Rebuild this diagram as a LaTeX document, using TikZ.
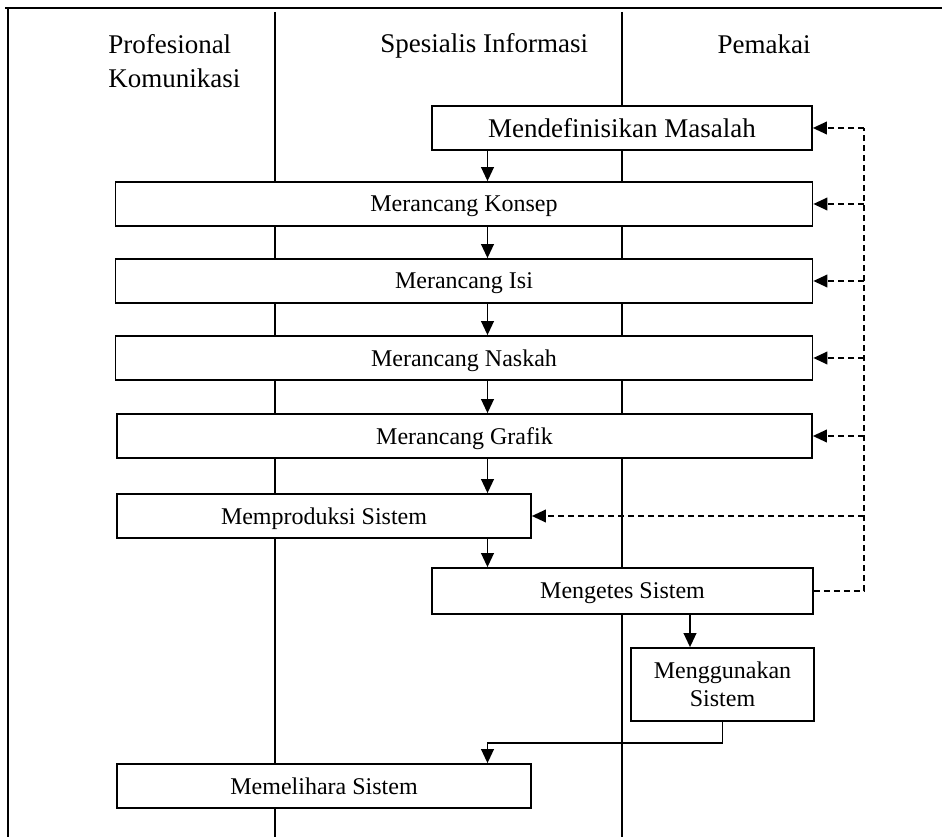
\documentclass[tikz,border=0pt]{standalone}
\usepackage{fontspec}
\setmainfont{Liberation Serif}
\usetikzlibrary{arrows.meta}
\begin{document}
\begin{tikzpicture}[x=0.75pt,y=-0.75pt,
  lane/.style={line width=1pt},
  frame/.style={line width=1.2pt},
  box/.style={draw, line width=1.3pt, fill=white, inner sep=0pt, align=center,
    text depth=0pt, font=\fontsize{18}{21}\selectfont},
  wh/.style 2 args={minimum width=#1*0.75pt, minimum height=#2*0.75pt},
  hdr/.style={inner sep=0pt, font=\fontsize{20.25}{25.5}\selectfont},
  flow/.style={line width=1.3pt, -{Triangle[length=10.5pt,width=9.5pt]}},
  fb/.style={line width=1.2pt, dash pattern=on 4.5pt off 3pt},
  fbarrow/.style={fb, -{Triangle[length=10.5pt,width=9.5pt]}}]
\useasboundingbox (0,0) rectangle (942,837);
\fill[white] (0,0) rectangle (942,837);
% frame and lanes
\draw[frame] (5,8) -- (942,8);
\draw[frame] (8,8) -- (8,837);
\draw[lane] (275,12) -- (275,837);
\draw[lane] (622,12) -- (622,837);
% headers
\node[hdr, anchor=north west, align=left] (hpk) at (108,34.5) {Profesional\\Komunikasi};
\node[hdr, anchor=base west] (hsi) at (380,53) {Spesialis Informasi};
\node[hdr, anchor=base] (hpm) at (764,54) {Pemakai};
% boxes
\node[box, wh={380}{44}] (b1) at (622,128) {\fontsize{20.25}{24}\selectfont Mendefinisikan Masalah};
\node[box, wh={697}{44}] (b2) at (464,204) {Merancang Konsep};
\node[box, wh={697}{44}] (b3) at (464,281) {Merancang Isi};
\node[box, wh={697}{44}] (b4) at (464,358) {Merancang Naskah};
\node[box, wh={695}{44}] (b5) at (464.5,436) {Merancang Grafik};
\node[box, wh={414}{44}] (b6) at (324,516) {Memproduksi Sistem};
\node[box, wh={381}{46}] (b7) at (622.5,591) {Mengetes Sistem};
\node[box, wh={183}{73}] (b8) at (722.5,684.5) {Menggunakan\\Sistem};
\node[box, wh={414}{44}] (b9) at (324,786) {Memelihara Sistem};
% solid flow
\coordinate (ax) at (487.5,0);
\coordinate (ay) at (690,0);
\draw[flow] (b1.south -| ax) -- (b2.north -| ax);
\draw[flow] (b2.south -| ax) -- (b3.north -| ax);
\draw[flow] (b3.south -| ax) -- (b4.north -| ax);
\draw[flow] (b4.south -| ax) -- (b5.north -| ax);
\draw[flow] (b5.south -| ax) -- (b6.north -| ax);
\draw[flow] (b6.south -| ax) -- (b7.north -| ax);
\draw[flow] (b7.south -| ay) -- (b8.north -| ay);
\draw[flow] (b8.south) -- ++(0,21) -| (b9.north -| ax);
% feedback (dashed)
\coordinate (fbtop) at (864,128);
\coordinate (fbbot) at (864,591);
\draw[fb] (b7.east) -- (fbbot) -- (fbtop);
\draw[fbarrow] (fbtop) -- (b1.east);
\draw[fbarrow] (fbtop |- b2.east) -- (b2.east);
\draw[fbarrow] (fbtop |- b3.east) -- (b3.east);
\draw[fbarrow] (fbtop |- b4.east) -- (b4.east);
\draw[fbarrow] (fbtop |- b5.east) -- (b5.east);
\draw[fbarrow] (fbtop |- b6.east) -- (b6.east);
\end{tikzpicture}
\end{document}
